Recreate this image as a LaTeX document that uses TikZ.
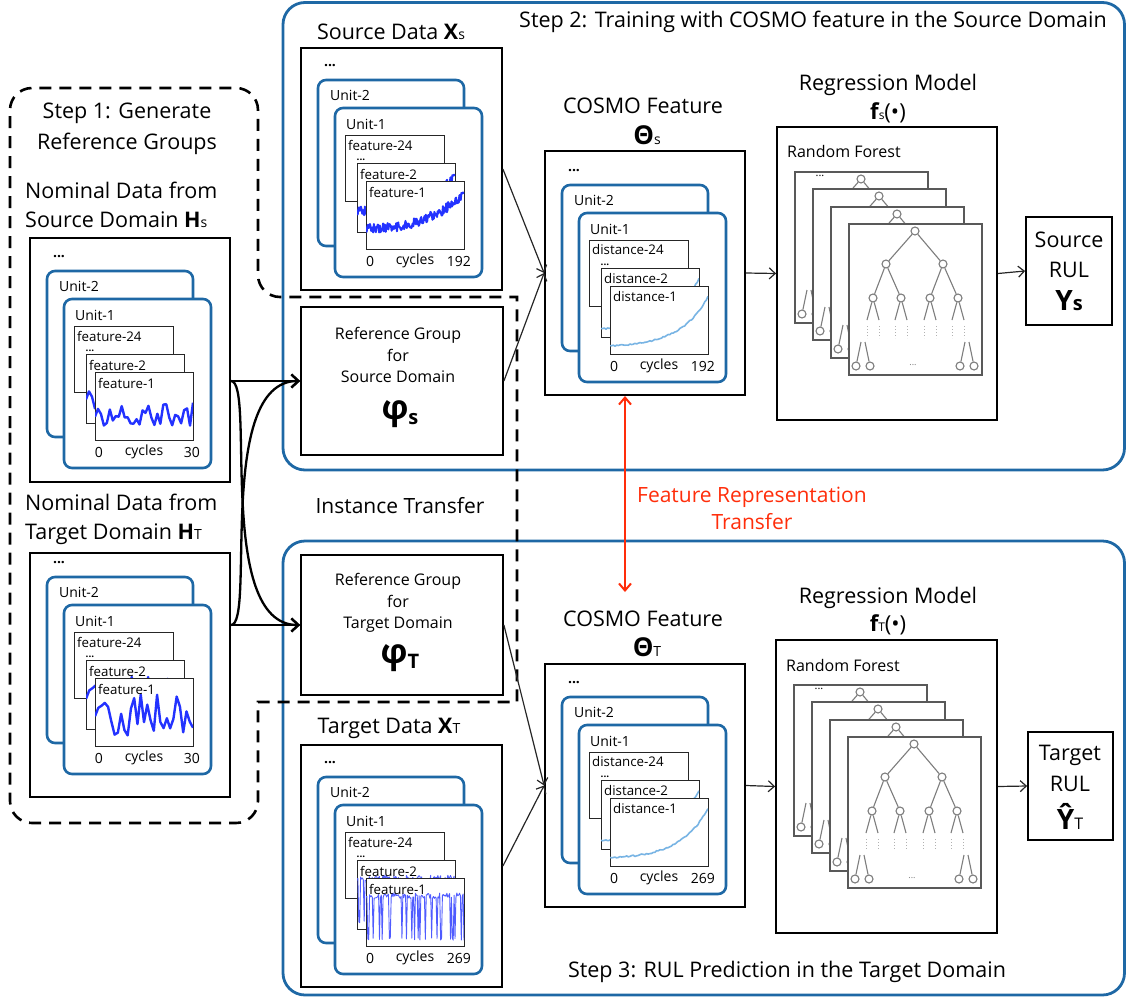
\documentclass[tikz,border=0pt]{standalone}
\usepackage{fontspec}
\setmainfont{Open Sans}
\usetikzlibrary{arrows.meta}
\definecolor{stepblue}{RGB}{30,104,165}
\definecolor{plotblue}{RGB}{35,50,255}
\definecolor{distblue}{RGB}{120,180,228}
\definecolor{redt}{RGB}{255,45,10}
\definecolor{treegray}{RGB}{125,125,125}
\newcommand\lsub[1]{{\mdseries\fontsize{14}{14}\selectfont #1}}
\newcommand\ustack[6]{%
\begin{scope}[shift={(#2,#3)}]
\node[lbl,font=\bfseries\fontsize{14}{14}\selectfont] (#1top) at (12,-14) {...};
\draw[unitbox] (0,0) rectangle (146,166);
\node[lbl,anchor=west] (#1u2) at (12,15) {Unit-2};
\draw[unitbox] (17,28) rectangle (164,197);
\node[lbl,anchor=west] (#1u1) at (28,44) {Unit-1};
\draw[card] (27,55) rectangle (126,121);
\node[clbl,anchor=west] (#1l24) at (30,65) {#4-24};
\node[lbl,font=\bfseries\fontsize{10}{10}\selectfont] (#1dd) at (43,79.5) {...};
\draw[card] (39,83) rectangle (137,152);
\begin{scope}\clip (39,83) rectangle (137,152);
 \begin{scope}[shift={(39,83)},x=0.98pt,y=-0.69pt] #6 \end{scope}
\end{scope}
\node[clbl,anchor=west] (#1l2) at (42,94) {#4-2};
\draw[card] (48,101) rectangle (146,169);
\begin{scope}\clip (48,101) rectangle (146,169);
 \begin{scope}[shift={(48,101)},x=0.98pt,y=-0.68pt] #6 \end{scope}
\end{scope}
\node[clbl,anchor=west] (#1l1) at (51,112) {#4-1};
\node[lbl] (#1x0) at (52,181) {0};
\node[lbl] (#1xc) at (97,181) {cycles};
\node[lbl,anchor=east] (#1xm) at (153,181) {#5};
\end{scope}}
\newcommand\rftree[3]{%
\begin{scope}[shift={(#2,#3)}]
\node[tcard] (#1) at (66.5,75.5) {};
\foreach \p [count=\i] in {(66,7),(37,40),(94,40),(24,74),(52,74),(81,74),(109,74),(7,142),(21,142),(111,142),(125,142)}
  \node[tnode] (#1n\i) at \p {};
\draw[tline] (#1n1) -- (#1n2) (#1n1) -- (#1n3) (#1n2) -- (#1n4) (#1n2) -- (#1n5) (#1n3) -- (#1n6) (#1n3) -- (#1n7);
\foreach \i in {4,5,6,7} \draw[tline] (#1n\i) -- +(-6,22) (#1n\i) -- +(6,22);
\foreach \q in {24,52,81,109} \draw[tdot] (\q-6,102) -- ++(0,12) (\q+6,102) -- ++(0,12);
\draw[tline] (12,118) -- (#1n8) (16,118) -- (#1n9) (116,118) -- (#1n10) (120,118) -- (#1n11);
\node[tdots] (#1d) at (64,141) {...};
\end{scope}}
\newcommand\forest[3]{%
\begin{scope}[shift={(#2,#3)}]
\rftree{#1a}{18}{45}
\node[tdots,font=\fontsize{11}{11}\selectfont,text=black] (#1dots) at (43,49) {...};
\rftree{#1b}{36}{62}
\rftree{#1c}{54}{80}
\rftree{#1d}{72}{97}
\end{scope}}
\begin{document}
\begin{tikzpicture}[x=1pt,y=-1pt,
  stepbox/.style={draw=stepblue,line width=2.8pt,rounded corners=22pt},
  stepdash/.style={draw=black,line width=2.6pt,dash pattern=on 12pt off 8pt},
  unitbox/.style={draw=stepblue,line width=2.6pt,rounded corners=8pt,fill=white},
  card/.style={draw=black!85,line width=1pt,fill=white},
  obox/.style={draw=black,line width=1.8pt,fill=white,inner sep=0pt},
  lbl/.style={font=\fontsize{14}{15}\selectfont,inner sep=0pt},
  clbl/.style={font=\fontsize{13.3}{14}\selectfont,inner sep=0pt},
  big/.style={font=\fontsize{21.5}{29}\selectfont,inner sep=0pt},
  ttl/.style={font=\fontsize{21.5}{31}\selectfont,inner sep=0pt},
  med/.style={font=\fontsize{16}{21.5}\selectfont,inner sep=0pt},
  fplot/.style={draw=plotblue,line width=2.4pt,line join=round},
  fthin/.style={draw=plotblue!80,line width=0.9pt,line join=round},
  dplot/.style={draw=distblue,line width=1.6pt,line join=round},
  tcard/.style={draw=black!65,line width=1.1pt,fill=white,minimum width=133pt,minimum height=151pt,inner sep=0pt},
  tnode/.style={circle,draw=treegray,line width=1.1pt,fill=white,minimum size=8pt,inner sep=0pt},
  tline/.style={draw=treegray,line width=1.1pt},
  tdot/.style={draw=treegray!60,line width=1pt,dash pattern=on 1pt off 2pt},
  tdots/.style={font=\fontsize{9}{9}\selectfont,text=treegray,inner sep=0pt},
  thickarr/.style={draw=black,line width=2.3pt,-{Straight Barb[length=7pt,width=13pt]}},
  thinarr/.style={draw=black!85,line width=1.2pt,-{Straight Barb[length=6pt,width=11pt]}},
  redarr/.style={draw=redt,line width=2pt,{Straight Barb[length=7pt,width=12pt]}-{Straight Barb[length=7pt,width=12pt]}}
]
\useasboundingbox (0,0) rectangle (1128,999);

% ---- Step boxes
\draw[stepbox] (283,2.5) rectangle (1124.5,470);
\draw[stepbox] (283,541) rectangle (1124.5,995);
\node[ttl] (s2t) at (813,22) {Step 2: Training with COSMO feature in the Source Domain};
\node[ttl] (s3t) at (787,972) {Step 3: RUL Prediction in the Target Domain};

% ---- Step 1 dashed region
\draw[stepdash] (10,450) [rounded corners=22pt] -- (10,88) -- (258,88) -- (258,297) [sharp corners] -- (517,297) -- (517,702) -- (258,702) [rounded corners=22pt] -- (258,823) -- (10,823) -- cycle;
\node[ttl,align=center] (s1t) at (127,129) {Step 1: Generate\\Reference Groups};

% ---- Nominal data
\node[big,align=left,anchor=west] (nsT) at (25,205) {Nominal Data from\\Source Domain {\bfseries H}\lsub{s}};
\node[obox,minimum width=200pt,minimum height=244pt] (nomS) at (130,360) {};
\ustack{ns}{47}{271}{feature}{30}{\pgfmathsetseed{7}\draw[fplot] plot[domain=0:100,samples=34] (\x,{62+17*rand});}

\node[big,align=left,anchor=west] (ntT) at (25,519) {Nominal Data from\\Target Domain {\bfseries H}\lsub{T}};
\node[obox,minimum width=200pt,minimum height=244pt] (nomT) at (130,675) {};
\ustack{nt}{47}{577}{feature}{30}{\pgfmathsetseed{11}\draw[fplot] plot[domain=0:100,samples=31] (\x,{55+36*rand});}

% ---- Source / target data
\node[big] (sxT) at (391,32) {Source Data {\bfseries X}\lsub{s}};
\node[obox,minimum width=201pt,minimum height=242pt] (srcX) at (401.5,169) {};
\ustack{sx}{318}{80}{feature}{192}{\pgfmathsetseed{3}\draw[fplot,line width=2pt] plot[domain=0:100,samples=150] (\x,{70-50*(\x/100)^2.5+7*rand});}

\node[big] (txT) at (389,728) {Target Data {\bfseries X}\lsub{T}};
\node[obox,minimum width=201pt,minimum height=242pt] (tgtX) at (401.5,866) {};
\ustack{tx}{318}{777}{feature}{269}{\pgfmathsetseed{5}\draw[fthin] plot[domain=0:100,samples=110] (\x,{rnd>0.72 ? 88+4*rnd : 22+8*rnd});}

% ---- Reference groups
\node[obox,minimum width=202pt,minimum height=148pt] (refS) at (402,381) {};
\node[med,align=center] (rsT) at (398,355) {Reference Group\\for\\Source Domain};
\node[inner sep=0pt] (rsP) at (400,414) {{\bfseries\fontsize{34}{34}\selectfont φ}{\bfseries\fontsize{20}{20}\selectfont\raisebox{-5pt}{s}}};
\node[obox,minimum width=202pt,minimum height=140pt] (refT) at (402,625) {};
\node[med,align=center] (rtT) at (398,603) {Reference Group\\for\\Target Domain};
\node[inner sep=0pt] (rtP) at (400,658) {{\bfseries\fontsize{34}{34}\selectfont φ}{\bfseries\fontsize{20}{20}\selectfont\raisebox{-5pt}{T}}};
\node[ttl,font=\fontsize{21}{21}\selectfont] (itT) at (400,506) {Instance Transfer};

% ---- COSMO features
\node[big] (csT) at (643,106) {COSMO Feature};
\node[inner sep=0pt] (csS) at (647,135) {{\bfseries\fontsize{26}{26}\selectfont Θ}\lsub{s}};
\node[obox,minimum width=200pt,minimum height=244pt] (cosS) at (645,273) {};
\ustack{cs}{562}{185}{distance}{192}{\pgfmathsetseed{9}\draw[dplot] plot[domain=0:100,samples=60] (\x,{88-72*(exp(0.035*\x)-1)/(exp(3.5)-1)+1.2*rand});}

\node[big] (ctT) at (643,619) {COSMO Feature};
\node[inner sep=0pt] (ctS) at (647,647) {{\bfseries\fontsize{26}{26}\selectfont Θ}\lsub{T}};
\node[obox,minimum width=200pt,minimum height=243pt] (cosT) at (645,785.5) {};
\ustack{ct}{562}{697}{distance}{269}{\pgfmathsetseed{13}\draw[dplot] plot[domain=0:100,samples=60] (\x,{88-72*(exp(0.035*\x)-1)/(exp(3.5)-1)+1.2*rand});}

% ---- Regression models
\node[big] (rmS) at (888,85) {Regression Model};
\node[inner sep=0pt] (fS) at (888,113) {{\bfseries\fontsize{22}{22}\selectfont f}{\fontsize{12}{12}\selectfont s}{\fontsize{22}{22}\selectfont(•)}};
\node[obox,minimum width=220pt,minimum height=293pt] (regS) at (887,273.5) {};
\node[med,anchor=west] (rfS) at (787,151) {Random Forest};
\forest{fs}{777}{127}

\node[big] (rmT) at (888,598) {Regression Model};
\node[inner sep=0pt] (fT) at (888,625) {{\bfseries\fontsize{22}{22}\selectfont f}{\fontsize{12}{12}\selectfont T}{\fontsize{22}{22}\selectfont(•)}};
\node[obox,minimum width=221pt,minimum height=293pt] (regT) at (886.5,786.5) {};
\node[med,anchor=west] (rfT) at (786,665) {Random Forest};
\forest{ft}{776}{640}

% ---- RUL boxes
\node[obox,minimum width=86pt,minimum height=108pt] (rulS) at (1069,271) {};
\node[big] (rulS1) at (1069,240) {Source};
\node[big] (rulS2) at (1069,270) {RUL};
\node[inner sep=0pt] (rulS3) at (1069,301) {{\bfseries\fontsize{28}{28}\selectfont Y}{\bfseries\fontsize{20}{20}\selectfont s}};
\node[obox,minimum width=85pt,minimum height=108pt] (rulT) at (1070.5,786) {};
\node[big] (rulT1) at (1070,755) {Target};
\node[big] (rulT2) at (1070,784) {RUL};
\node[inner sep=0pt] (rulT3) at (1070,816) {{\bfseries\fontsize{28}{28}\selectfont Ŷ}{\fontsize{16}{16}\selectfont T}};

% ---- connectors
\draw[thickarr] (nomS.east |- refS.west) -- (refS.west);
\draw[thickarr] (nomT.east |- refT.west) -- (refT.west);
\draw[thickarr] (nomS.east |- refS.west) .. controls +(25,0) and +(-85,0) .. (refT.west);
\draw[thickarr] (nomT.east |- refT.west) .. controls +(25,0) and +(-85,0) .. (refS.west);

\draw[thinarr] (srcX.east) -- (cosS.west);
\draw[thinarr] (refS.east) -- (cosS.west);
\draw[thinarr] (refT.east) -- (cosT.west);
\draw[thinarr] (tgtX.east) -- (cosT.west);
\draw[thinarr] (cosS.east) -- (regS.west);
\draw[thinarr] (cosT.east) -- (regT.west);
\draw[thinarr] (regS.east) -- (rulS.west);
\draw[thinarr] (regT.east) -- (rulT.west);

\coordinate (rtop) at (625,396);
\coordinate (rbot) at (625,592);
\draw[redarr] (rtop) -- (rbot);
\node[ttl,text=redt,align=center,font=\fontsize{21}{27}\selectfont] (frt) at (752,508) {Feature Representation\\Transfer};
\end{tikzpicture}
\end{document}
